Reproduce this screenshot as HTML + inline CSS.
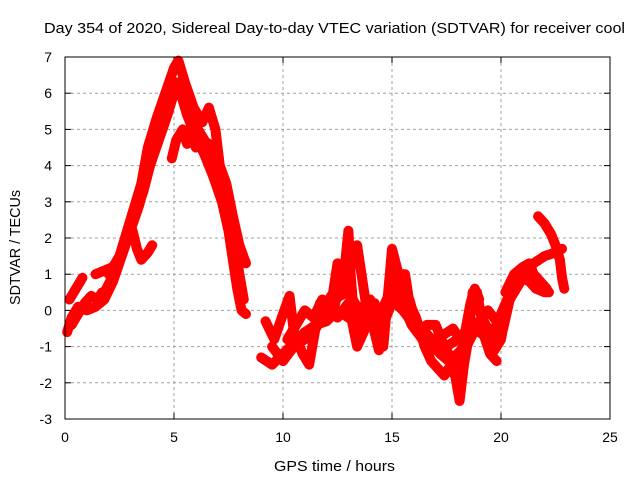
<!DOCTYPE html>
<html><head><meta charset="utf-8"><style>
body{margin:0;background:#fff;}
svg{display:block;font-family:"Liberation Sans",sans-serif;}
</style></head><body>
<svg id="chart" width="640" height="480" xmlns="http://www.w3.org/2000/svg">
<text x="44" y="33" font-size="15" textLength="581" lengthAdjust="spacingAndGlyphs">Day 354 of 2020, Sidereal Day-to-day VTEC variation (SDTVAR) for receiver cool</text>
<text x="274" y="471" font-size="15" textLength="121" lengthAdjust="spacingAndGlyphs">GPS time / hours</text>
<text transform="translate(20,305) rotate(-90)" font-size="15" textLength="115" lengthAdjust="spacingAndGlyphs">SDTVAR / TECUs</text>
<g id="grid"></g>
<g id="ticks"></g>
<g id="series"></g>
<rect x="65" y="57" width="545" height="362" fill="none" stroke="#000" stroke-width="1"/>
</svg>
<script>
const xTicks=[0,5,10,15,20,25];
const yTicks=[-3,-2,-1,0,1,2,3,4,5,6,7];
const trackA=[[0.1,-0.6],[0.3,-0.2],[0.6,0.1],[1.0,0.0],[1.4,0.1],[1.8,0.3],[2.2,0.8],[2.6,1.5],[3.0,2.2],[3.4,2.9],[3.7,3.6],[4.0,4.3],[4.4,5.0],[4.8,5.8],[5.1,6.3],[5.3,6.0],[5.6,5.4],[6.0,4.8],[6.4,4.3],[6.8,3.7],[7.2,3.0],[7.5,2.2],[7.7,1.4],[7.9,0.6],[8.1,0.0],[8.3,-0.1]];
const trackA2=[[1.9,0.6],[2.4,1.2],[2.8,1.9],[3.2,2.6],[3.6,3.3],[3.9,4.0],[4.3,4.7],[4.7,5.4],[5.0,6.0],[5.3,6.3],[5.6,5.9],[5.9,5.2],[6.3,4.8],[6.7,4.4],[7.0,3.8],[7.3,3.3],[7.6,2.5],[7.8,1.8],[8.0,1.0],[8.2,0.3]];
const trackB=[[2.0,1.0],[2.5,1.5],[3.0,2.5],[3.5,3.5],[3.8,4.5],[4.2,5.3],[4.6,6.0],[5.0,6.7],[5.2,6.9],[5.5,6.3],[5.9,5.6],[6.3,5.2],[6.6,5.6],[6.9,5.0],[7.1,4.0],[7.4,3.5],[7.7,2.6],[8.0,1.8],[8.3,1.3]];
const trackC=[[0.2,0.3],[0.5,0.6],[0.8,0.9]];
const trackD=[[0.3,-0.4],[0.6,-0.1],[0.9,0.2],[1.2,0.4],[1.5,0.3],[1.7,0.5]];
const trackE=[[1.4,1.0],[1.8,1.1],[2.2,1.2]];
const trackF=[[3.1,2.2],[3.3,1.7],[3.5,1.4],[3.8,1.6],[4.0,1.8]];
const trackG=[[4.9,4.2],[5.1,4.7],[5.4,5.0],[5.6,4.6],[5.8,4.8],[6.0,4.5],[6.3,4.7],[6.6,4.6]];
const trackH=[[9.0,-1.3],[9.5,-1.5],[10.0,-1.2],[10.5,-0.9],[11.0,-0.6],[11.5,-0.4],[12.0,-0.3],[12.5,0.0],[13.0,-0.2],[13.5,-0.3],[14.0,0.0],[14.5,-0.2],[15.0,0.3],[15.5,0.0],[16.0,-0.4],[16.5,-0.6],[17.0,-0.9],[17.5,-1.0],[18.0,-0.8],[18.5,-0.5],[19.0,-0.6],[19.5,-0.8],[20.0,-0.1],[20.5,0.6],[21.0,1.0],[21.5,1.3],[22.0,1.5],[22.5,1.6],[22.8,1.7]];
const trackI=[[9.2,-0.3],[9.6,-0.8],[10.0,-0.1],[10.3,0.4],[10.5,-0.6],[10.9,-1.2],[11.2,-1.5],[11.4,-0.8],[11.7,0.2],[12.0,-0.2],[12.3,0.5],[12.5,1.3],[12.8,1.0],[13.0,2.2],[13.1,1.0],[13.3,-0.5],[13.5,-0.8],[13.8,0.3],[14.0,-0.2],[14.3,-0.8],[14.6,-1.0],[14.9,1.0],[15.0,1.7],[15.3,1.0],[15.6,1.0],[15.8,0.2],[16.1,-0.2],[16.5,-1.0],[16.8,-1.4],[17.1,-1.6],[17.4,-1.8],[17.6,-1.6],[17.9,-1.8],[18.1,-2.5],[18.3,-1.5],[18.5,-0.8],[18.7,0.5],[18.9,0.5],[19.1,-0.2],[19.4,-0.5],[19.7,-1.1],[20.0,-0.8],[20.3,0.2],[20.7,0.6],[21.0,0.9],[21.3,0.8],[21.6,0.6],[22.0,0.5],[22.2,0.5]];
const trackJ=[[9.5,-1.0],[10.0,-1.4],[10.5,-1.0],[11.0,-0.8],[11.5,-0.5],[12.0,0.0],[12.2,0.4],[12.5,-0.2],[13.0,0.2],[13.4,-1.0],[13.7,-0.6],[14.2,0.2],[14.5,-0.5],[15.0,0.2],[15.4,0.8],[15.8,-0.2],[16.4,-0.5],[16.8,-0.8],[17.2,-1.2],[17.6,-1.4],[18.0,-1.2],[18.5,-0.9],[19.0,-0.3],[19.5,-1.2],[19.8,-1.4]];
const trackM=[[10.2,-0.8],[10.6,-0.4],[11.0,0.0],[11.4,-0.2],[11.8,0.3],[12.2,0.2],[12.6,0.4],[13.0,0.5],[13.4,0.1],[13.8,-0.1],[14.2,-0.3],[14.6,0.1],[15.0,0.6],[15.4,0.3],[15.9,-0.4],[16.4,-0.8],[16.9,-1.1],[17.3,-0.7],[17.8,-0.5],[18.2,-0.9],[18.6,-0.3],[19.0,-0.4],[19.4,0.0],[19.8,-0.3],[20.1,-0.5],[20.4,0.3]];
const trackN=[[12.4,0.2],[12.6,0.9],[12.8,0.6],[13.4,1.8],[13.6,1.0],[13.8,0.2],[14.0,0.3],[14.2,-0.6],[14.4,-1.1],[14.6,-0.4],[15.1,1.3],[15.4,0.6],[15.8,0.3],[16.2,-0.6],[16.6,-0.4],[17.0,-0.4],[17.4,-1.0],[17.7,-1.3],[18.0,-2.0],[18.2,-1.1],[18.6,0.2],[18.8,0.6],[19.0,0.3]];
const trackK=[[21.7,2.6],[22.0,2.4],[22.3,2.1],[22.5,1.8],[22.7,1.4],[22.8,0.9],[22.9,0.6]];
const trackL=[[20.2,0.5],[20.6,1.0],[21.0,1.2],[21.3,1.3],[21.5,1.0],[21.8,0.8],[22.1,0.6]];
const tracks=[trackA,trackA2,trackB,trackC,trackD,trackE,trackF,trackG,trackH,trackI,trackJ,trackM,trackN,trackK,trackL];

const X0=65,X1=610,Y0=419,Y1=57;
function sx(h){return X0+(h-0)/(25-0)*(X1-X0);}
function sy(v){return Y0-(v+3)/(7+3)*(Y0-Y1);}
const NS='http://www.w3.org/2000/svg';
const grid=document.getElementById('grid'),ticks=document.getElementById('ticks'),series=document.getElementById('series');
function mk(tag,attrs,parent){const e=document.createElementNS(NS,tag);for(const k in attrs)e.setAttribute(k,attrs[k]);parent.appendChild(e);return e;}
xTicks.forEach(t=>{
  const x=sx(t);
  if(t>0&&t<25){const g=mk('line',{x1:x,x2:x,y1:Y1,y2:Y0,stroke:'#a0a0a0','stroke-dasharray':'3,3'},grid);
  
  }
  mk('line',{x1:x,x2:x,y1:Y0,y2:Y0-6,stroke:'#000'},ticks);
  mk('line',{x1:x,x2:x,y1:Y1,y2:Y1+6,stroke:'#000'},ticks);
  const l=mk('text',{x:x,y:442,'font-size':14,'text-anchor':'middle'},ticks);l.textContent=t;
  
  
});
yTicks.forEach(t=>{
  const y=sy(t);
  if(t>-3&&t<7){const g=mk('line',{x1:X0,x2:X1,y1:y,y2:y,stroke:'#a0a0a0','stroke-dasharray':'3,3'},grid);
  
  }
  mk('line',{x1:X0,x2:X0+6,y1:y,y2:y,stroke:'#000'},ticks);
  mk('line',{x1:X1,x2:X1-6,y1:y,y2:y,stroke:'#000'},ticks);
  const l=mk('text',{x:52,y:y+5,'font-size':14,'text-anchor':'end'},ticks);l.textContent=t;
  
  
});
tracks.forEach(tr=>{
  const p=mk('polyline',{points:tr.map(d=>sx(d[0])+','+sy(d[1])).join(' '),fill:'none',stroke:'#ff0000','stroke-width':10,'stroke-linejoin':'round','stroke-linecap':'round'},series);
  
  
});
</script>
</body></html>
